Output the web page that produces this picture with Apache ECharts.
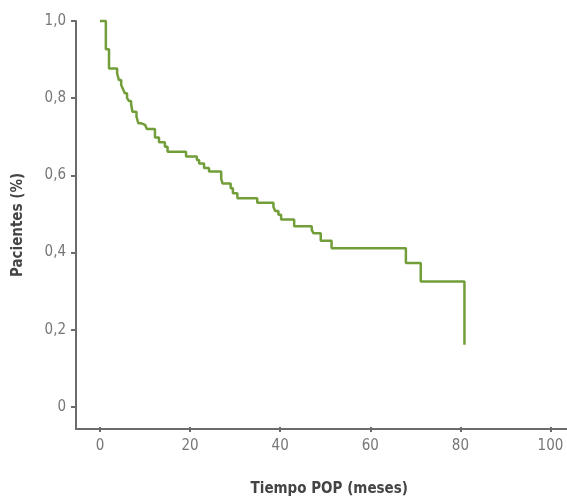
<!DOCTYPE html>
<html>
<head>
    <meta charset="utf-8">
    <title>Tiempo POP</title>
    <script src="https://cdn.jsdelivr.net/npm/echarts@6/dist/echarts.min.js"></script>
</head>
<body style="margin:0">
    <div id="main" style="width:567px;height:502px;"></div>
    <script>
        // tiempo (meses) y proporción de pacientes tras cada evento
        var meses = [0, 1.3, 2.0, 3.8, 4.2, 4.7, 5.1, 5.5, 6.0, 6.4, 6.9, 7.2, 8.1, 8.5, 9.2, 10.0, 10.4,
            12.2, 13.1, 14.4, 15.0, 19.1, 21.5, 22.0, 23.1, 24.2, 26.9, 27.2, 29.0, 29.5, 30.5, 34.9,
            38.5, 38.9, 39.6, 40.2, 43.1, 47.0, 47.4, 49.0, 51.4, 67.9, 71.2, 80.9];
        var pacientes = [1.0, 0.927, 0.877, 0.864, 0.847, 0.834, 0.824, 0.813, 0.801, 0.793, 0.785, 0.765, 0.752, 0.735, 0.731, 0.726, 0.720,
            0.698, 0.686, 0.674, 0.661, 0.649, 0.640, 0.631, 0.619, 0.610, 0.592, 0.579, 0.567, 0.554, 0.541, 0.529,
            0.518, 0.508, 0.498, 0.486, 0.468, 0.459, 0.450, 0.431, 0.411, 0.373, 0.325, 0.161];
        var yTicks = [0, 0.2, 0.4, 0.6, 0.8, 1.0];
        var yTickLabels = ['0', '0,2', '0,4', '0,6', '0,8', '1,0'];

        var myChart = echarts.init(document.getElementById('main'));
        var fuente = "'Liberation Sans Narrow', 'DejaVu Sans Condensed', sans-serif";
        var ejeColor = '#6b6b6b';
        var oculto = { show: false };

        var option = {
            animation: false,
            grid: [
                { left: 100, right: 16.5, top: 21, bottom: 95 },  // datos
                { left: 76, right: 0, top: 21, bottom: 73 },      // líneas de los ejes
                { left: 100, right: 16.5, top: 21, bottom: 73 },  // marcas del eje x
                { left: 76, right: 0, top: 21, bottom: 95 }       // marcas del eje y
            ],
            xAxis: [{
                type: 'value', gridIndex: 0, min: 0, max: 100, show: false
            }, {
                type: 'value', gridIndex: 1, min: 0, max: 1,
                splitLine: oculto, axisTick: oculto, axisLabel: oculto,
                axisLine: { onZero: false, lineStyle: { color: ejeColor, width: 2 } }
            }, {
                type: 'value', gridIndex: 2, min: 0, max: 100, interval: 20,
                splitLine: oculto,
                axisLine: { show: false, onZero: false },
                axisTick: { show: true, length: 5, lineStyle: { color: ejeColor, width: 2 } },
                axisLabel: { margin: 12, color: '#777', fontSize: 15, fontFamily: fuente },
                name: 'Tiempo POP (meses)',
                nameLocation: 'middle',
                nameGap: 55,
                nameTextStyle: { color: '#444', fontWeight: 'bold', fontSize: 15, fontFamily: fuente, padding: [0, 0, 0, 8] }
            }, {
                type: 'value', gridIndex: 3, min: 0, max: 1, show: false
            }],
            yAxis: [{
                type: 'value', gridIndex: 0, min: 0, max: 1, show: false
            }, {
                type: 'value', gridIndex: 1, min: 0, max: 1,
                splitLine: oculto, axisTick: oculto, axisLabel: oculto,
                axisLine: { onZero: false, lineStyle: { color: ejeColor, width: 2 } },
                name: 'Pacientes (%)',
                nameLocation: 'middle',
                nameGap: 50,
                nameTextStyle: { color: '#444', fontWeight: 'bold', fontSize: 15, fontFamily: fuente }
            }, {
                type: 'value', gridIndex: 2, min: 0, max: 1, show: false
            }, {
                type: 'value', gridIndex: 3, min: 0, max: 1, interval: 0.2,
                splitLine: oculto,
                axisLine: { show: false, onZero: false },
                axisTick: { show: true, length: 5, lineStyle: { color: ejeColor, width: 2 } },
                axisLabel: {
                    margin: 10, color: '#777', fontSize: 15, fontFamily: fuente,
                    formatter: function (v) {
                        var i = yTicks.indexOf(Math.round(v * 10) / 10);
                        return i >= 0 ? yTickLabels[i] : '';
                    }
                }
            }],
            series: [{
                type: 'line',
                xAxisIndex: 0, yAxisIndex: 0,
                step: 'end',
                showSymbol: false,
                clip: false,
                data: meses.map(function (t, i) { return [t, pacientes[i]]; }),
                lineStyle: { color: '#729e3a', width: 2.5 }
            }]
        };
        myChart.setOption(option);
    </script>
</body>
</html>
